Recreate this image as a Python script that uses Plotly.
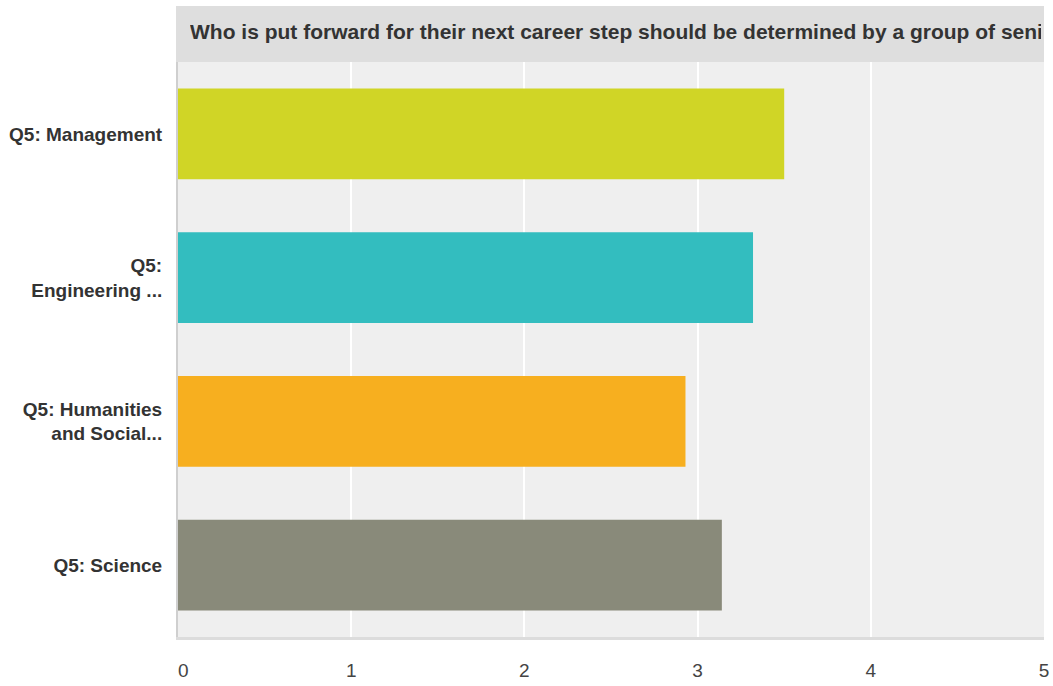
import plotly.graph_objects as go

categories = ["Q5: Management", "Q5:<br>Engineering ...", "Q5: Humanities<br>and Social...", "Q5: Science"]
values = [3.50, 3.32, 2.93, 3.14]
colors = ["#d0d526", "#33bdbf", "#f7af1f", "#898a7a"]
title_text = "Who is put forward for their next career step should be determined by a group of senior colleagues"
x_ticks = [0, 1, 2, 3, 4, 5]

W, H = 1053, 686
ml, mr, mt, mb = 178, 9, 62, 49
pw = W - ml - mr
ph = H - mt - mb
FONT = "Liberation Sans, Arial, sans-serif"

# the first label sits slightly inward, as in the reference
tick_text = [("\u00a0\u00a0" + str(t)) if i == 0 else str(t) for i, t in enumerate(x_ticks)]

fig = go.Figure()
fig.add_trace(go.Bar(
    x=values, y=categories, orientation="h",
    marker=dict(color=colors, line=dict(width=0)),
    hoverinfo="x+y",
))

fig.update_layout(
    width=W, height=H,
    margin=dict(l=ml, r=mr, t=mt, b=mb, pad=0, autoexpand=False),
    paper_bgcolor="white",
    plot_bgcolor="#efefef",
    bargap=0.367,
    showlegend=False,
    font=dict(family=FONT, color="#333333"),
    xaxis=dict(
        range=[0, 5], tickvals=x_ticks, ticktext=tick_text,
        showgrid=True, gridcolor="white", gridwidth=2,
        zeroline=False, showline=True, linecolor="#dcdcdc", linewidth=3,
        tickfont=dict(size=19, color="#444444", family=FONT),
        ticklabelstandoff=14, automargin=False, fixedrange=True,
    ),
    yaxis=dict(
        categoryorder="array", categoryarray=categories[::-1],
        showgrid=False, zeroline=False,
        showline=True, linecolor="#cfcfcf", linewidth=2,
        tickfont=dict(size=19, color="#333333", family=FONT, weight="bold"),
        ticklabelstandoff=10, automargin=False, fixedrange=True,
    ),
    shapes=[dict(
        type="rect", xref="paper", yref="paper",
        x0=-2 / pw, x1=1.0, y0=1.0, y1=1 + (mt - 6) / ph,
        fillcolor="#dedede", line=dict(width=0), layer="above",
    )],
    annotations=[dict(
        xref="paper", yref="paper",
        x=(189 - ml) / pw, y=1 + 30.5 / ph,
        xanchor="left", yanchor="middle",
        width=851, align="left",
        text="<b>" + title_text + "</b>", showarrow=False,
        font=dict(size=21, color="#333333", family=FONT),
        borderpad=0,
    )],
)

# place the figure flush with the window corner (no default 8px body margin)
fig.write_html(
    "out.html",
    config={"displayModeBar": False},
    post_script="document.body.style.margin='0px';"
                "document.body.style.overflow='hidden';"
                "document.documentElement.style.overflow='hidden';",
)
